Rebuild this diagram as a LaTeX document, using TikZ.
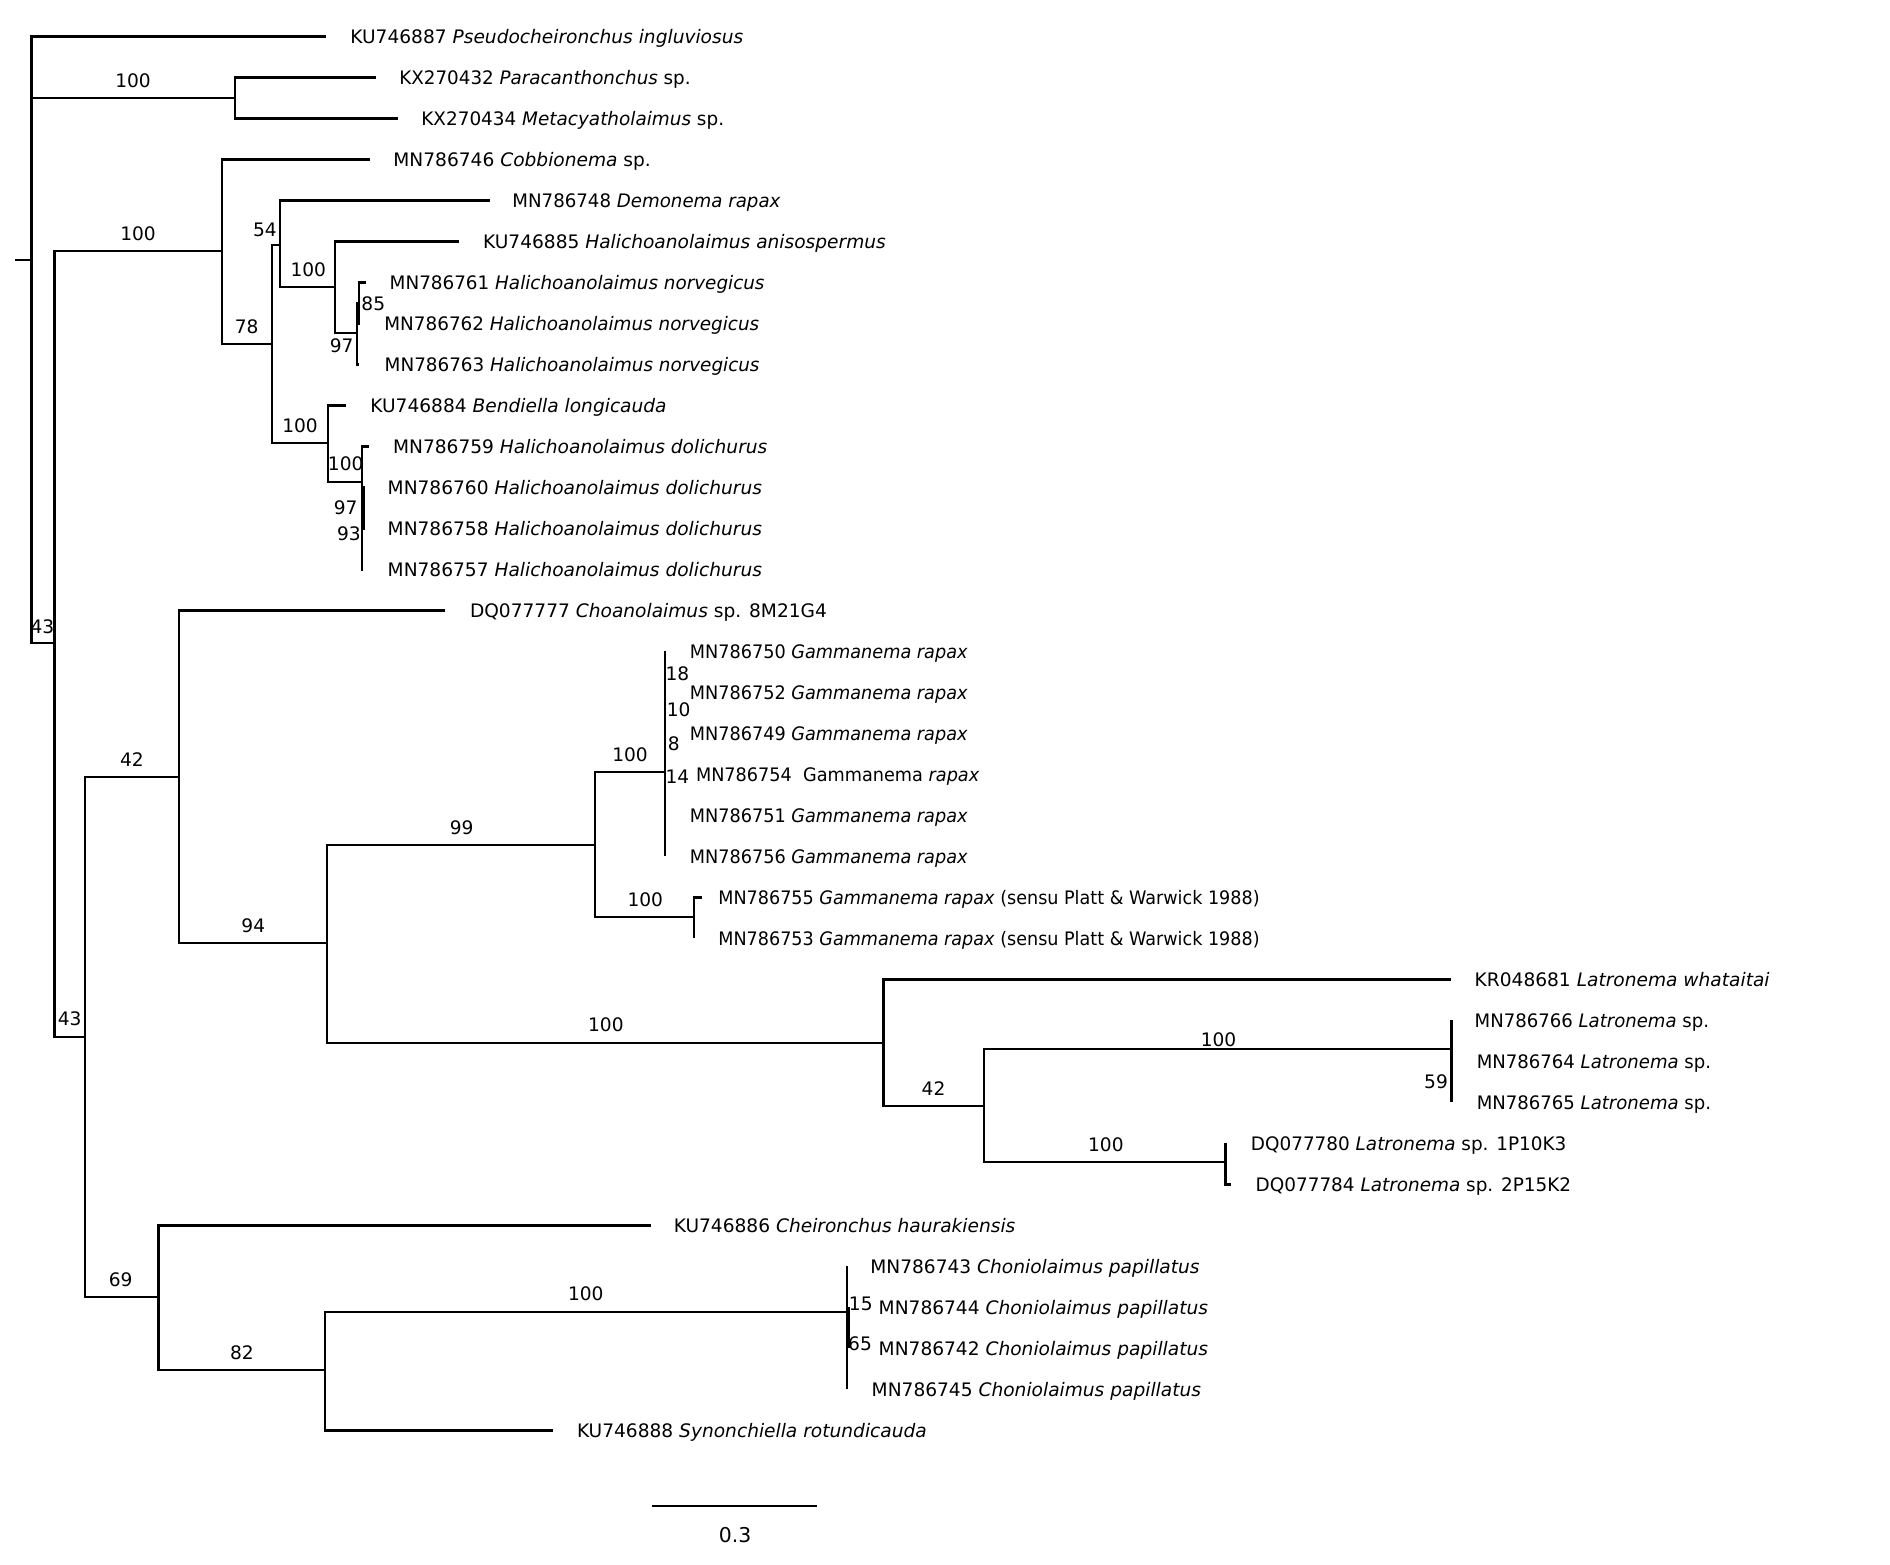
\documentclass[tikz,border=0pt]{standalone}
\usepackage{fontspec}
\setmainfont{DejaVu Sans}
\newcommand{\nrw}[2]{\scalebox{#1}[1]{#2}}
\begin{document}
\begin{tikzpicture}[x=0.5pt,y=-0.5pt,
  br/.style={line width=1.1pt},
  lf/.style={anchor=base west, inner sep=0pt, font=\fontsize{9.3}{11}\selectfont, yshift=-3.35pt},
  bs/.style={inner sep=0pt, font=\fontsize{9.3}{11}\selectfont},
  sc/.style={inner sep=0pt, font=\fontsize{10.2}{12}\selectfont}]
\useasboundingbox (0,0) rectangle (1890,1564);
% --- coordinates ---
\coordinate (stub) at (15,259.8);
\coordinate (R) at (31.5,259.8);
\coordinate (L1) at (326,36.4);
\coordinate (N100a) at (235,98);
\coordinate (L2) at (376,77.4);
\coordinate (L3) at (398,118.4);
\coordinate (N43a) at (54.5,643.3);
\coordinate (N100b) at (222,250.7);
\coordinate (L4) at (370,159.4);
\coordinate (N78) at (271.7,344);
\coordinate (N54) at (280,245);
\coordinate (L5) at (489.5,200.4);
\coordinate (N100c) at (335,287.3);
\coordinate (L6) at (459.3,241.4);
\coordinate (N97a) at (357,332.7);
\coordinate (N85) at (358.8,303);
\coordinate (L7) at (365.7,282.4);
\coordinate (L8) at (360,323.4);
\coordinate (L9) at (359,364.4);
\coordinate (N100d) at (327.7,443.3);
\coordinate (L10) at (346,405.4);
\coordinate (N100e) at (362.3,481.7);
\coordinate (L11) at (369,446.4);
\coordinate (N97b) at (364.3,505);
\coordinate (L12) at (365,487.4);
\coordinate (L13) at (365,528.4);
\coordinate (L14) at (363,569.4);
\coordinate (N43b) at (84.8,1036.7);
\coordinate (N42a) at (178.7,776.7);
\coordinate (L15) at (445.3,610.4);
\coordinate (N94) at (327.2,943.3);
\coordinate (N99) at (595,845);
\coordinate (N100f) at (664.7,772.3);
\coordinate (L16) at (664.7,651.4);
\coordinate (L17) at (664.7,692.4);
\coordinate (L18) at (664.7,733.4);
\coordinate (L19) at (664.7,774.4);
\coordinate (L20) at (664.7,815.4);
\coordinate (L21) at (664.7,856.4);
\coordinate (N100g) at (693.7,916.7);
\coordinate (L22) at (701.6,897.4);
\coordinate (L23) at (693.7,938.4);
\coordinate (N100h) at (883.4,1042.7);
\coordinate (L24) at (1451.4,979.4);
\coordinate (N42b) at (984.2,1106);
\coordinate (N100i) at (1451.4,1049.3);
\coordinate (L25) at (1451.4,1020.4);
\coordinate (L26) at (1451.4,1061.4);
\coordinate (L27) at (1451.4,1102.4);
\coordinate (N100j) at (1225.5,1162.3);
\coordinate (L28) at (1225.5,1143.4);
\coordinate (L29) at (1231,1184.4);
\coordinate (N69) at (158.5,1297.3);
\coordinate (L30) at (651,1225.4);
\coordinate (N82) at (324.8,1370);
\coordinate (N100k) at (846.7,1311.7);
\coordinate (L31) at (846.7,1266.4);
\coordinate (N15) at (848.7,1328);
\coordinate (L32) at (848.7,1307.4);
\coordinate (L33) at (848.7,1348.4);
\coordinate (L34) at (846.7,1389.4);
\coordinate (L35) at (552.8,1430.4);
\coordinate (sb1) at (652.4,1506);
\coordinate (sb2) at (817.3,1506);
% --- branches ---
\draw[br] (stub) -- (R);
\draw[br] (R) |- (L1);
\draw[br] (R) |- (N100a);
\draw[br] (R) |- (N43a);
\draw[br] (N100a) |- (L2);
\draw[br] (N100a) |- (L3);
\draw[br] (N43a) |- (N100b);
\draw[br] (N43a) |- (N43b);
\draw[br] (N100b) |- (L4);
\draw[br] (N100b) |- (N78);
\draw[br] (N78) |- (N54);
\draw[br] (N78) |- (N100d);
\draw[br] (N54) |- (L5);
\draw[br] (N54) |- (N100c);
\draw[br] (N100c) |- (L6);
\draw[br] (N100c) |- (N97a);
\draw[br] (N97a) |- (N85);
\draw[br] (N97a) |- (L9);
\draw[br] (N85) |- (L7);
\draw[br] (N85) |- (L8);
\draw[br] (N100d) |- (L10);
\draw[br] (N100d) |- (N100e);
\draw[br] (N100e) |- (L11);
\draw[br] (N100e) |- (N97b);
\draw[br] (N100e) |- (L14);
\draw[br] (N97b) |- (L12);
\draw[br] (N97b) |- (L13);
\draw[br] (N43b) |- (N42a);
\draw[br] (N43b) |- (N69);
\draw[br] (N42a) |- (L15);
\draw[br] (N42a) |- (N94);
\draw[br] (N94) |- (N99);
\draw[br] (N94) |- (N100h);
\draw[br] (N99) |- (N100f);
\draw[br] (N99) |- (N100g);
\draw[br] (N100f) |- (L16);
\draw[br] (N100f) |- (L17);
\draw[br] (N100f) |- (L18);
\draw[br] (N100f) |- (L19);
\draw[br] (N100f) |- (L20);
\draw[br] (N100f) |- (L21);
\draw[br] (N100g) |- (L22);
\draw[br] (N100g) |- (L23);
\draw[br] (N100h) |- (L24);
\draw[br] (N100h) |- (N42b);
\draw[br] (N42b) |- (N100i);
\draw[br] (N42b) |- (N100j);
\draw[br] (N100i) |- (L25);
\draw[br] (N100i) |- (L26);
\draw[br] (N100i) |- (L27);
\draw[br] (N100j) |- (L28);
\draw[br] (N100j) |- (L29);
\draw[br] (N69) |- (L30);
\draw[br] (N69) |- (N82);
\draw[br] (N82) |- (N100k);
\draw[br] (N82) |- (L35);
\draw[br] (N100k) |- (L31);
\draw[br] (N100k) |- (N15);
\draw[br] (N100k) |- (L34);
\draw[br] (N15) |- (L32);
\draw[br] (N15) |- (L33);
\draw[br] (sb1) -- (sb2);
% --- leaf labels ---
\node[lf] (t1) at (350,36.4) {KU746887 \textit{Pseudocheironchus ingluviosus}};
\node[lf] (t2) at (399,77.4) {\nrw{0.984}{KX270432 \textit{Paracanthonchus} sp.}};
\node[lf] (t3) at (421,118.4) {\nrw{0.99}{KX270434 \textit{Metacyatholaimus} sp.}};
\node[lf] (t4) at (393,159.4) {MN786746 \textit{Cobbionema} sp.};
\node[lf] (t5) at (512,200.4) {\nrw{0.978}{MN786748 \textit{Demonema rapax}}};
\node[lf] (t6) at (482.7,241.4) {KU746885 \textit{Halichoanolaimus anisospermus}};
\node[lf] (t7) at (389.3,282.4) {\nrw{0.987}{MN786761 \textit{Halichoanolaimus norvegicus}}};
\node[lf] (t8) at (384,323.4) {\nrw{0.987}{MN786762 \textit{Halichoanolaimus norvegicus}}};
\node[lf] (t9) at (384.3,364.4) {\nrw{0.987}{MN786763 \textit{Halichoanolaimus norvegicus}}};
\node[lf] (t10) at (370,405.4) {KU746884 \textit{Bendiella longicauda}};
\node[lf] (t11) at (392.7,446.4) {MN786759 \textit{Halichoanolaimus dolichurus}};
\node[lf] (t12) at (387.3,487.4) {MN786760 \textit{Halichoanolaimus dolichurus}};
\node[lf] (t13) at (387.3,528.4) {MN786758 \textit{Halichoanolaimus dolichurus}};
\node[lf] (t14) at (387.3,569.4) {MN786757 \textit{Halichoanolaimus dolichurus}};
\node[lf] (t15) at (469.6,610.4) {DQ077777 \textit{Choanolaimus} sp. 8M21G4};
\node[lf] (t16) at (689.5,651.4) {\nrw{0.95}{MN786750 \textit{Gammanema rapax}}};
\node[lf] (t17) at (689.5,692.4) {\nrw{0.95}{MN786752 \textit{Gammanema rapax}}};
\node[lf] (t18) at (689.5,733.4) {\nrw{0.95}{MN786749 \textit{Gammanema rapax}}};
\node[lf] (t19) at (695.6,774.4) {\nrw{0.95}{MN786754\ \ Gammanema \textit{rapax}}};
\node[lf] (t20) at (689.5,815.4) {\nrw{0.95}{MN786751 \textit{Gammanema rapax}}};
\node[lf] (t21) at (689.5,856.4) {\nrw{0.95}{MN786756 \textit{Gammanema rapax}}};
\node[lf] (t22) at (718,897.4) {\nrw{0.945}{MN786755 \textit{Gammanema rapax} (sensu Platt \& Warwick 1988)}};
\node[lf] (t23) at (718,938.4) {\nrw{0.945}{MN786753 \textit{Gammanema rapax} (sensu Platt \& Warwick 1988)}};
\node[lf] (t24) at (1474.3,979.4) {KR048681 \textit{Latronema whataitai}};
\node[lf] (t25) at (1474.3,1020.4) {\nrw{0.972}{MN786766 \textit{Latronema} sp.}};
\node[lf] (t26) at (1476.4,1061.4) {\nrw{0.972}{MN786764 \textit{Latronema} sp.}};
\node[lf] (t27) at (1476.4,1102.4) {\nrw{0.972}{MN786765 \textit{Latronema} sp.}};
\node[lf] (t28) at (1250.5,1143.4) {\nrw{0.99}{DQ077780 \textit{Latronema} sp. 1P10K3}};
\node[lf] (t29) at (1255.3,1184.4) {\nrw{0.99}{DQ077784 \textit{Latronema} sp. 2P15K2}};
\node[lf] (t30) at (673.4,1225.4) {KU746886 \textit{Cheironchus haurakiensis}};
\node[lf] (t31) at (869.9,1266.4) {MN786743 \textit{Choniolaimus papillatus}};
\node[lf] (t32) at (878.3,1307.4) {MN786744 \textit{Choniolaimus papillatus}};
\node[lf] (t33) at (878.3,1348.4) {MN786742 \textit{Choniolaimus papillatus}};
\node[lf] (t34) at (871.3,1389.4) {MN786745 \textit{Choniolaimus papillatus}};
\node[lf] (t35) at (576.6,1430.4) {KU746888 \textit{Synonchiella rotundicauda}};
% --- support values ---
\node[bs] (s1) at (133,81) {100};
\node[bs] (s2) at (138,234) {100};
\node[bs] (s3) at (265,230) {54};
\node[bs] (s4) at (246.6,326.6) {78};
\node[bs] (s5) at (308.3,269.3) {100};
\node[bs] (s6) at (373.3,303.3) {85};
\node[bs] (s7) at (341.7,345.7) {97};
\node[bs] (s8) at (300,426) {100};
\node[bs] (s9) at (345.7,464) {100};
\node[bs] (s10) at (345.7,507.3) {97};
\node[bs] (s11) at (349,534) {93};
\node[bs] (s12) at (42.4,626.7) {43};
\node[bs] (s13) at (132,759.3) {42};
\node[bs] (s14) at (677.4,673.3) {18};
\node[bs] (s15) at (678.6,710) {10};
\node[bs] (s16) at (673.7,744) {8};
\node[bs] (s17) at (677.4,776.7) {14};
\node[bs] (s18) at (630,755) {100};
\node[bs] (s19) at (461.7,827.3) {99};
\node[bs] (s20) at (645.3,899.3) {100};
\node[bs] (s21) at (253.3,926) {94};
\node[bs] (s22) at (69.7,1018.3) {43};
\node[bs] (s23) at (605.9,1025) {100};
\node[bs] (s24) at (1218.5,1040) {100};
\node[bs] (s25) at (1436,1081.7) {59};
\node[bs] (s26) at (933.5,1088.3) {42};
\node[bs] (s27) at (1105.9,1145) {100};
\node[bs] (s28) at (120.7,1279.3) {69};
\node[bs] (s29) at (585.8,1294) {100};
\node[bs] (s30) at (242,1352.7) {82};
\node[bs] (s31) at (860.8,1304) {15};
\node[bs] (s32) at (860,1344) {65};
\node[sc] (s33) at (735.2,1535) {0.3};
\end{tikzpicture}
\end{document}
